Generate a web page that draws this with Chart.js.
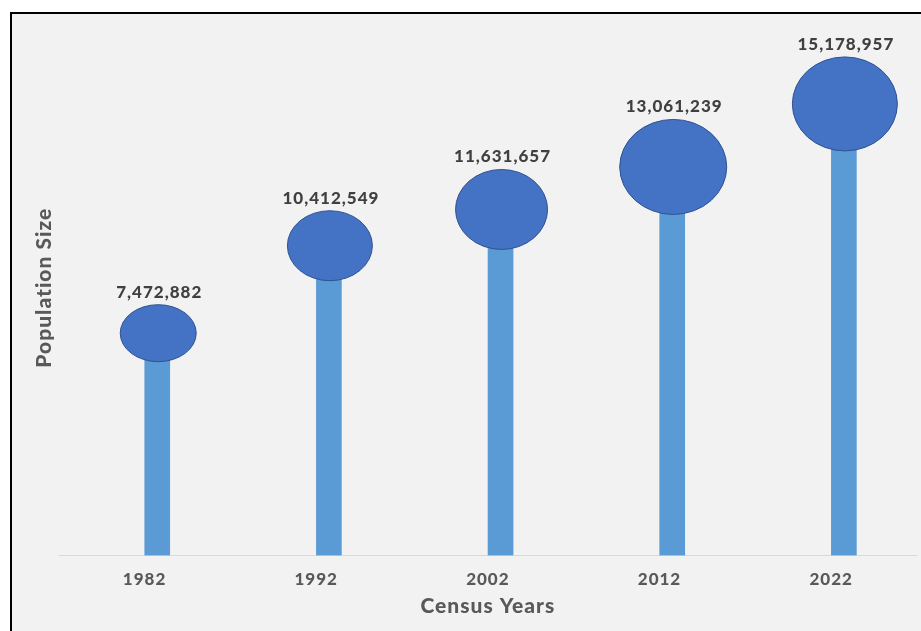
<!DOCTYPE html>
<html><head><meta charset="utf-8">
<script src="https://cdn.jsdelivr.net/npm/chart.js@4.4.0/dist/chart.umd.min.js"></script>
<style>html,body{margin:0;padding:0;background:#fff;overflow:hidden}#wrap{width:921px;height:631px;position:relative}</style>
</head><body><div id="wrap"><canvas id="c" width="921" height="631"></canvas></div>
<script>
const years = ['1982', '1992', '2002', '2012', '2022'];
const population = [7472882, 10412549, 11631657, 13061239, 15178957];
const xTitle = 'Census Years';
const yTitle = 'Population Size';

// style: ellipse radii (px) for each lollipop head
const headRx = [38, 42.5, 46, 53.5, 52.5];
const headRy = [28.5, 35, 40, 47.5, 47];

const FONT = 'Lato, "Open Sans", sans-serif';

const framePlugin = {
  id: 'frame',
  beforeDraw(chart) {
    const ctx = chart.ctx;
    ctx.save();
    ctx.fillStyle = '#ffffff';
    ctx.fillRect(0, 0, chart.width, chart.height);
    ctx.fillStyle = '#f2f2f2';
    ctx.fillRect(11, 13, chart.width, chart.height);
    ctx.strokeStyle = '#000000';
    ctx.lineWidth = 2;
    ctx.strokeRect(11, 13, chart.width + 20, chart.height + 20);
    ctx.restore();
    ctx.letterSpacing = '1px';
  }
};

const headsPlugin = {
  id: 'heads',
  afterDatasetsDraw(chart) {
    const ctx = chart.ctx;
    const meta = chart.getDatasetMeta(0);
    ctx.save();
    meta.data.forEach((bar, i) => {
      const rx = headRx[i], ry = headRy[i];
      ctx.beginPath();
      ctx.ellipse(bar.x + 1, bar.y, rx, ry, 0, 0, Math.PI * 2);
      ctx.fillStyle = '#4472c4';
      ctx.fill();
      ctx.lineWidth = 1;
      ctx.strokeStyle = '#2f528f';
      ctx.stroke();
      ctx.font = '900 17px ' + FONT;
      ctx.letterSpacing = '1px';
      ctx.fillStyle = '#404040';
      ctx.textAlign = 'center';
      ctx.textBaseline = 'alphabetic';
      ctx.fillText(population[i].toLocaleString('en-US'), bar.x + 2, bar.y - ry - 7);
    });
    ctx.restore();
  }
};

new Chart(document.getElementById('c'), {
  type: 'bar',
  data: {
    labels: years,
    datasets: [{
      label: yTitle,
      data: population.map((v, i) => ({ x: i, y: v })),
      xAxisID: 'xb',
      yAxisID: 'y',
      backgroundColor: '#5b9bd5',
      borderWidth: 0,
      barThickness: 25
    }]
  },
  options: {
    responsive: false,
    animation: false,
    devicePixelRatio: 1,
    layout: { padding: { left: 26.5, right: 4, top: 20, bottom: 17.85 } },
    plugins: { legend: { display: false }, tooltip: { enabled: false } },
    scales: {
      x: {
        type: 'category',
        position: 'bottom',
        offset: true,
        grid: { display: false, drawTicks: false },
        border: { display: true, color: '#d9d9d9', width: 1 },
        ticks: { color: '#595959', font: { family: FONT, size: 17, weight: '900', lineHeight: 1.2 }, padding: 14 },
        title: { display: true, text: xTitle, color: '#595959', font: { family: FONT, size: 21, weight: '900', lineHeight: 0.25 }, padding: { top: 0, bottom: 4 } }
      },
      xb: {
        type: 'linear',
        display: false,
        offset: false,
        grid: { offset: false },
        min: -0.574,
        max: 4.426
      },
      y: {
        type: 'linear',
        min: 0,
        max: 18000000,
        grid: { display: false, drawTicks: false },
        border: { display: false },
        ticks: { display: false },
        title: { display: true, text: yTitle, color: '#595959', font: { family: FONT, size: 21, weight: '900' }, padding: { top: 5, bottom: 2 } }
      }
    }
  },
  plugins: [framePlugin, headsPlugin]
});
</script></body></html>
